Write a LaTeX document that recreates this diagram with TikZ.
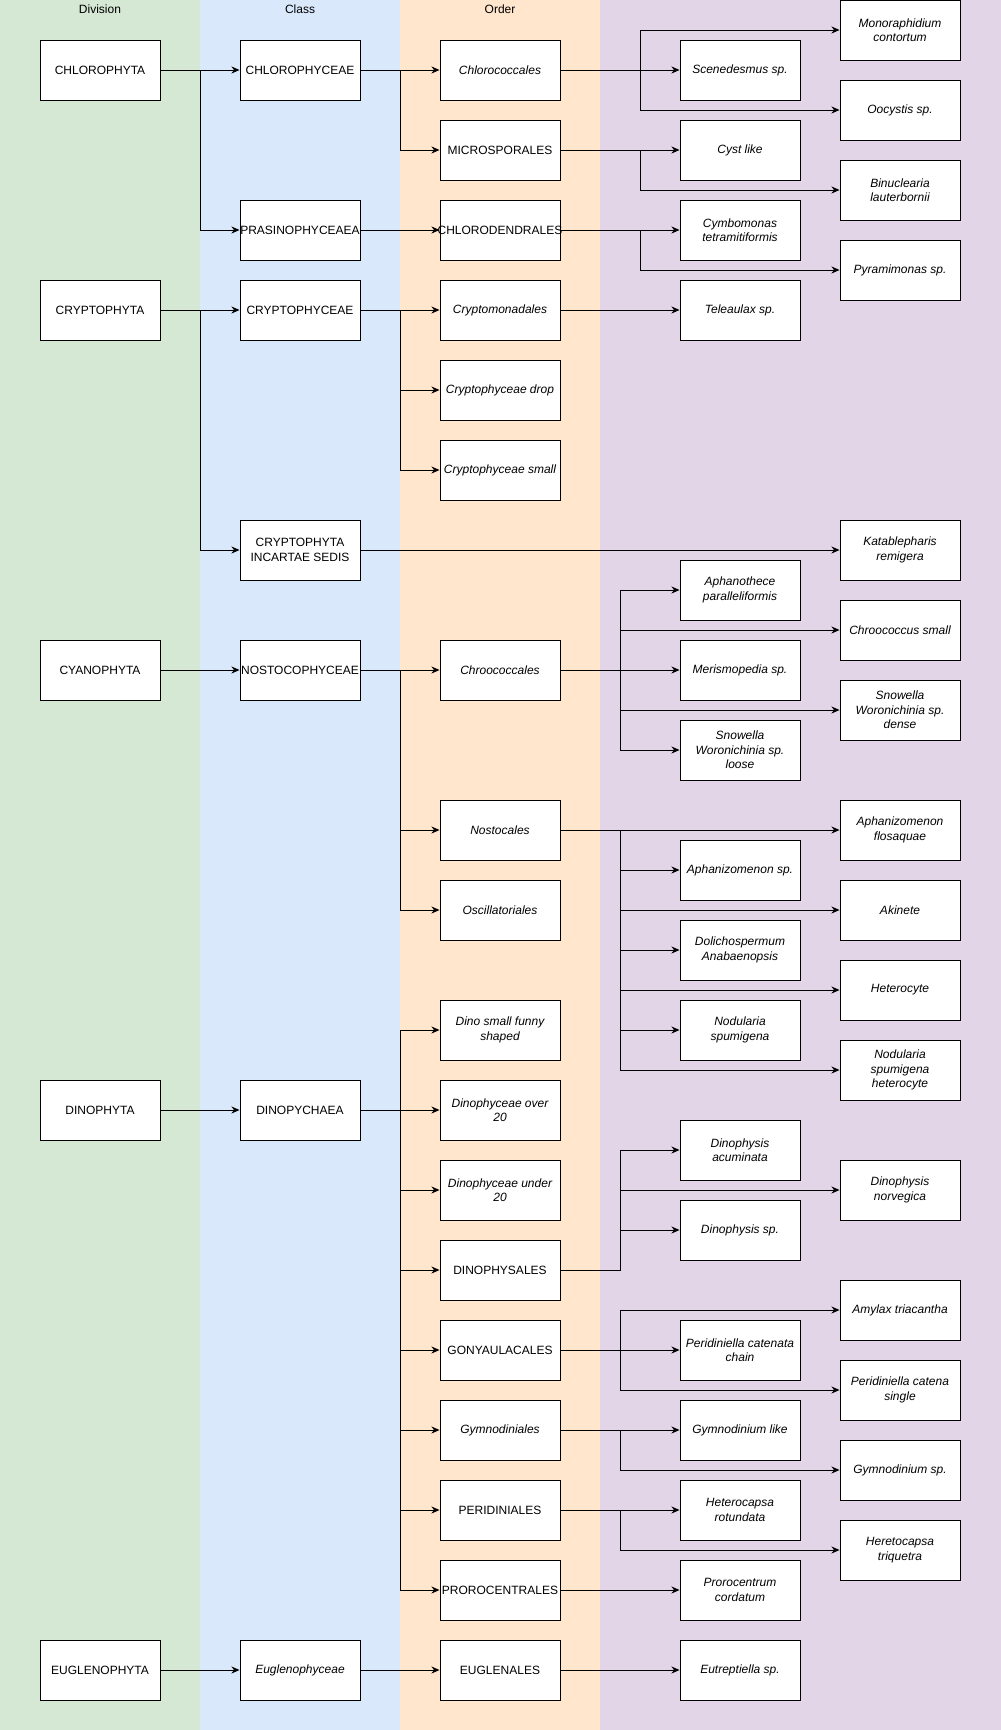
\documentclass[tikz,border=0pt]{standalone}
\usepackage{fontspec}
\setmainfont{Liberation Sans}
\usepackage{tikz}
\usetikzlibrary{arrows.meta}
\definecolor{divc}{RGB}{213, 232, 212}
\definecolor{clsc}{RGB}{218, 232, 252}
\definecolor{ordc}{RGB}{255, 230, 204}
\definecolor{spc}{RGB}{225, 213, 231}

\begin{document}
\begin{tikzpicture}[
box/.style={rectangle, minimum width=120pt, minimum height=60pt, inner sep=0pt, align=center, fill=white, draw=black, line width=1pt, font=\fontsize{12pt}{14.5pt}\selectfont},
ibox/.style={box, font=\fontsize{12pt}{14.5pt}\selectfont\itshape},
head/.style={inner sep=0pt, font=\fontsize{12pt}{14.5pt}\selectfont},
arr/.style={line width=1pt, color=black, -{Stealth[length=8pt, width=7pt, inset=2.5pt]}}]
\useasboundingbox (0pt, 0pt) rectangle (1001pt, -1730pt);
\fill [divc] (0pt, 0pt) rectangle (200pt, -1730pt);
\fill [clsc] (200pt, 0pt) rectangle (400pt, -1730pt);
\fill [ordc] (400pt, 0pt) rectangle (600pt, -1730pt);
\fill [spc] (600pt, 0pt) rectangle (1001pt, -1730pt);
\node (hd1) [head] at (100pt, -9pt) {Division};
\node (hd2) [head] at (300pt, -9pt) {Class};
\node (hd3) [head] at (500pt, -9pt) {Order};
% division
\node (d1) [box] at (100pt, -70pt) {CHLOROPHYTA};
\node (d2) [box] at (100pt, -310pt) {CRYPTOPHYTA};
\node (d3) [box] at (100pt, -670pt) {CYANOPHYTA};
\node (d4) [box] at (100pt, -1110pt) {DINOPHYTA};
\node (d5) [box] at (100pt, -1670pt) {EUGLENOPHYTA};
% class
\node (c1) [box] at (300pt, -70pt) {CHLOROPHYCEAE};
\node (c2) [box] at (300pt, -230pt) {PRASINOPHYCEAEA};
\node (c3) [box] at (300pt, -310pt) {CRYPTOPHYCEAE};
\node (c4) [box] at (300pt, -550pt) {CRYPTOPHYTA\\INCARTAE SEDIS};
\node (c5) [box] at (300pt, -670pt) {NOSTOCOPHYCEAE};
\node (c6) [box] at (300pt, -1110pt) {DINOPYCHAEA};
\node (c7) [ibox] at (300pt, -1670pt) {Euglenophyceae};
% order
\node (o1) [ibox] at (500pt, -70pt) {Chlorococcales};
\node (o2) [box] at (500pt, -150pt) {MICROSPORALES};
\node (o3) [box] at (500pt, -230pt) {\makebox[0pt]{CHLORODENDRALES}};
\node (o4) [ibox] at (500pt, -310pt) {Cryptomonadales};
\node (o5) [ibox] at (500pt, -390pt) {Cryptophyceae drop};
\node (o6) [ibox] at (500pt, -470pt) {Cryptophyceae small};
\node (o7) [ibox] at (500pt, -670pt) {Chroococcales};
\node (o8) [ibox] at (500pt, -830pt) {Nostocales};
\node (o9) [ibox] at (500pt, -910pt) {Oscillatoriales};
\node (o10) [ibox] at (500pt, -1030pt) {Dino small funny\\shaped};
\node (o11) [ibox] at (500pt, -1110pt) {Dinophyceae over\\20};
\node (o12) [ibox] at (500pt, -1190pt) {Dinophyceae under\\20};
\node (o13) [box] at (500pt, -1270pt) {DINOPHYSALES};
\node (o14) [box] at (500pt, -1350pt) {GONYAULACALES};
\node (o15) [ibox] at (500pt, -1430pt) {Gymnodiniales};
\node (o16) [box] at (500pt, -1510pt) {PERIDINIALES};
\node (o17) [box] at (500pt, -1590pt) {PROROCENTRALES};
\node (o18) [box] at (500pt, -1670pt) {EUGLENALES};
% species, inner column
\node (s1) [ibox] at (740pt, -70pt) {Scenedesmus sp.};
\node (s2) [ibox] at (740pt, -150pt) {Cyst like};
\node (s3) [ibox] at (740pt, -230pt) {Cymbomonas\\tetramitiformis};
\node (s4) [ibox] at (740pt, -310pt) {Teleaulax sp.};
\node (s5) [ibox] at (740pt, -590pt) {Aphanothece\\paralleliformis};
\node (s6) [ibox] at (740pt, -670pt) {Merismopedia sp.};
\node (s7) [ibox] at (740pt, -750pt) {Snowella\\Woronichinia sp.\\loose};
\node (s8) [ibox] at (740pt, -870pt) {Aphanizomenon sp.};
\node (s9) [ibox] at (740pt, -950pt) {Dolichospermum\\Anabaenopsis};
\node (s10) [ibox] at (740pt, -1030pt) {Nodularia\\spumigena};
\node (s11) [ibox] at (740pt, -1150pt) {Dinophysis\\acuminata};
\node (s12) [ibox] at (740pt, -1230pt) {Dinophysis sp.};
\node (s13) [ibox] at (740pt, -1350pt) {Peridiniella catenata\\chain};
\node (s14) [ibox] at (740pt, -1430pt) {Gymnodinium like};
\node (s15) [ibox] at (740pt, -1510pt) {Heterocapsa\\rotundata};
\node (s16) [ibox] at (740pt, -1590pt) {Prorocentrum\\cordatum};
\node (s17) [ibox] at (740pt, -1670pt) {Eutreptiella sp.};
% species, outer column
\node (t1) [ibox] at (900pt, -30pt) {Monoraphidium\\contortum};
\node (t2) [ibox] at (900pt, -110pt) {Oocystis sp.};
\node (t3) [ibox] at (900pt, -190pt) {Binuclearia\\lauterbornii};
\node (t4) [ibox] at (900pt, -270pt) {Pyramimonas sp.};
\node (t5) [ibox] at (900pt, -550pt) {Katablepharis\\remigera};
\node (t6) [ibox] at (900pt, -630pt) {Chroococcus small};
\node (t7) [ibox] at (900pt, -710pt) {Snowella\\Woronichinia sp.\\dense};
\node (t8) [ibox] at (900pt, -830pt) {Aphanizomenon\\flosaquae};
\node (t9) [ibox] at (900pt, -910pt) {Akinete};
\node (t10) [ibox] at (900pt, -990pt) {Heterocyte};
\node (t11) [ibox] at (900pt, -1070pt) {Nodularia\\spumigena\\heterocyte};
\node (t12) [ibox] at (900pt, -1190pt) {Dinophysis\\norvegica};
\node (t13) [ibox] at (900pt, -1310pt) {Amylax triacantha};
\node (t14) [ibox] at (900pt, -1390pt) {Peridiniella catena\\single};
\node (t15) [ibox] at (900pt, -1470pt) {Gymnodinium sp.};
\node (t16) [ibox] at (900pt, -1550pt) {Heretocapsa\\triquetra};
% division to class
\draw [arr] (d1) -- (c1);
\draw [arr] (d1.east) -- ++(40pt, 0) |- (c2);
\draw [arr] (d2) -- (c3);
\draw [arr] (d2.east) -- ++(40pt, 0) |- (c4);
\draw [arr] (d3) -- (c5);
\draw [arr] (d4) -- (c6);
\draw [arr] (d5) -- (c7);
% class to order
\draw [arr] (c1) -- (o1);
\draw [arr] (c1.east) -- ++(40pt, 0) |- (o2);
\draw [arr] (c2) -- (o3);
\draw [arr] (c3) -- (o4);
\draw [arr] (c3.east) -- ++(40pt, 0) |- (o5);
\draw [arr] (c3.east) -- ++(40pt, 0) |- (o6);
\draw [arr] (c4) -- (t5);
\draw [arr] (c5) -- (o7);
\draw [arr] (c5.east) -- ++(40pt, 0) |- (o8);
\draw [arr] (c5.east) -- ++(40pt, 0) |- (o9);
\draw [arr] (c6) -- (o11);
\foreach \o in {o10, o12, o13, o14, o15, o16, o17}
  \draw [arr] (c6.east) -- ++(40pt, 0) |- (\o);
\draw [arr] (c7) -- (o18);
% order to species
\draw [arr] (o1) -- (s1);
\draw [arr] (o1.east) -- ++(80pt, 0) |- (t1);
\draw [arr] (o1.east) -- ++(80pt, 0) |- (t2);
\draw [arr] (o2) -- (s2);
\draw [arr] (o2.east) -- ++(80pt, 0) |- (t3);
\draw [arr] (o3) -- (s3);
\draw [arr] (o3.east) -- ++(80pt, 0) |- (t4);
\draw [arr] (o4) -- (s4);
\draw [arr] (o7) -- (s6);
\foreach \s in {s5, t6, t7, s7}
  \draw [arr] (o7.east) -- ++(60pt, 0) |- (\s);
\draw [arr] (o8) -- (t8);
\foreach \s in {s8, t9, s9, t10, s10, t11}
  \draw [arr] (o8.east) -- ++(60pt, 0) |- (\s);
\foreach \s in {s11, t12, s12}
  \draw [arr] (o13.east) -- ++(60pt, 0) |- (\s);
\draw [arr] (o14) -- (s13);
\draw [arr] (o14.east) -- ++(60pt, 0) |- (t13);
\draw [arr] (o14.east) -- ++(60pt, 0) |- (t14);
\draw [arr] (o15) -- (s14);
\draw [arr] (o15.east) -- ++(60pt, 0) |- (t15);
\draw [arr] (o16) -- (s15);
\draw [arr] (o16.east) -- ++(60pt, 0) |- (t16);
\draw [arr] (o17) -- (s16);
\draw [arr] (o18) -- (s17);
\end{tikzpicture}
\end{document}
